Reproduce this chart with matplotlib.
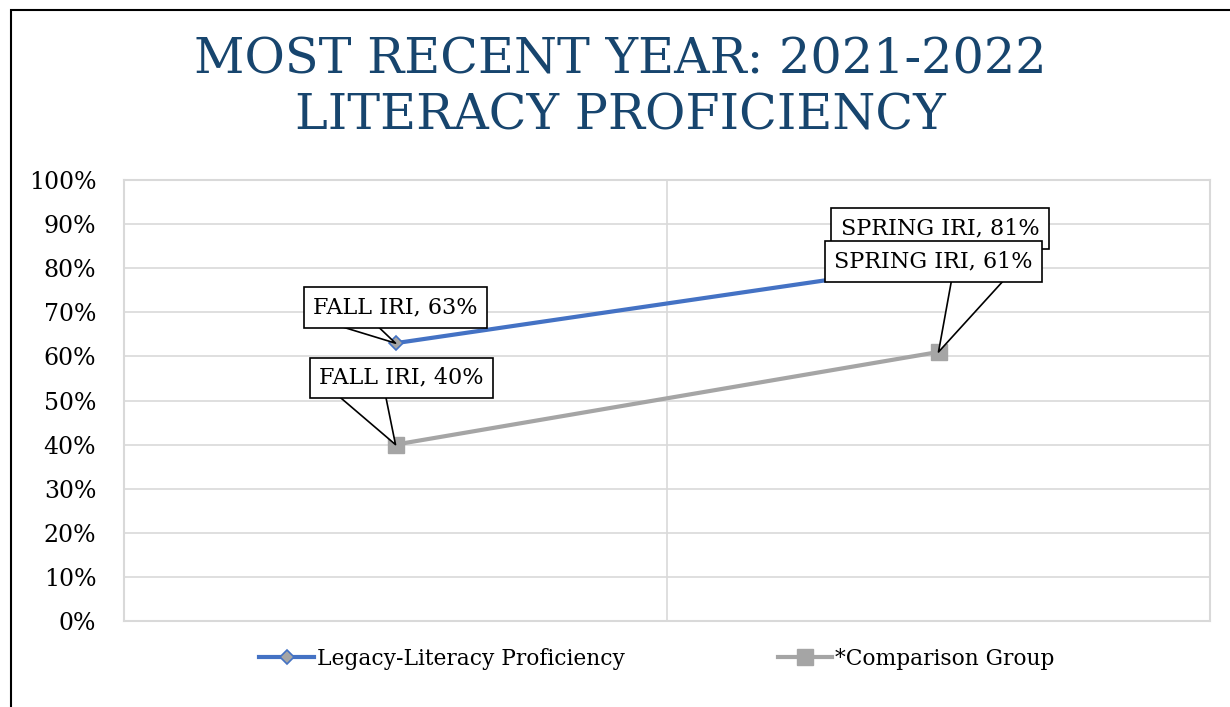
import matplotlib
matplotlib.use("Agg")
from matplotlib import pyplot as plt
from matplotlib.patches import Rectangle
from matplotlib.ticker import PercentFormatter
import numpy as np

# chart data
terms = ["FALL IRI", "SPRING IRI"]
legacy = [0.63, 0.81]
comparison = [0.40, 0.61]
series_names = ["Legacy-Literacy Proficiency", "*Comparison Group"]
title_lines = ["MOST RECENT YEAR: 2021-2022", "LITERACY PROFICIENCY"]
y_ticks = np.arange(0, 1.01, 0.1)

BLUE = "#4472C4"
GRAY = "#A5A5A5"
TITLE_COLOR = "#17456E"
GRID = "#D9D9D9"
FONT = "DejaVu Serif"

plt.rcParams["font.family"] = FONT

fig = plt.figure(figsize=(12.3, 7.07), dpi=100)
ax = fig.add_axes([124 / 1230, 1 - 621 / 707, (1210 - 124) / 1230, (621 - 180) / 707])

x = np.arange(len(terms))
ax.plot(x, legacy, color=BLUE, lw=3, marker="D", ms=7.5, mfc=GRAY, mec=BLUE,
        mew=1.2, label=series_names[0], zorder=3)
ax.plot(x, comparison, color=GRAY, lw=3, marker="s", ms=11, mfc=GRAY, mec=GRAY,
        label=series_names[1], zorder=3)

ax.set_xlim(-0.5, len(terms) - 0.5)
ax.set_ylim(0, 1)
ax.set_yticks(y_ticks)
ax.yaxis.set_major_formatter(PercentFormatter(1.0, decimals=0))
ax.set_xticks(x[:-1] + 0.5)
ax.set_xticklabels([])
ax.tick_params(axis="both", length=0)
ax.tick_params(axis="y", labelsize=17, pad=20)
ax.grid(True, color=GRID, lw=1.2)
ax.set_axisbelow(True)
for s in ax.spines.values():
    s.set_color(GRID)
    s.set_linewidth(1.5)


def callout(xi, yi, text, dx, dy, rel=None, width=None):
    arrow = None
    if rel is not None:
        arrow = dict(arrowstyle="wedge,tail_width=%s" % width, fc="white",
                     ec="black", lw=1.2, relpos=rel, patchA=None,
                     shrinkA=0, shrinkB=0)
    ax.annotate(
        text, xy=(xi, yi), xytext=(dx, dy), textcoords="offset points",
        ha="center", va="center", fontsize=16, zorder=5,
        bbox=dict(boxstyle="square,pad=0.42", fc="white", ec="black", lw=1.2),
        arrowprops=arrow,
    )


def label(name, v):
    return "%s, %d%%" % (name, round(v * 100))


# data labels
callout(x[0], legacy[0], label(terms[0], legacy[0]), 0, 25.6, (0.13, 0.5), 1.5)
callout(x[0], comparison[0], label(terms[0], comparison[0]), 4.3, 48, (0.225, 0.5), 2.4)
callout(x[1], legacy[1], label(terms[1], legacy[1]), 1, 25.6)
callout(x[1], comparison[1], label(terms[1], comparison[1]), -3.6, 65, (0.75, 0.5), 2.6)

leg = fig.legend(loc="center", bbox_to_anchor=(657 / 1230, 1 - 659 / 707), ncol=2,
                 frameon=False, fontsize=15.7, handlelength=2.5, handletextpad=0.15,
                 columnspacing=7.0)

fig.text(620 / 1230, 1 - 73 / 707, title_lines[0], ha="center", va="baseline",
         fontsize=35.5, color=TITLE_COLOR)
fig.text(620 / 1230, 1 - 130 / 707, title_lines[1], ha="center", va="baseline",
         fontsize=35.5, color=TITLE_COLOR)

# chart border
fig.add_artist(Rectangle((11 / 1230, -0.5), 2, 0.5 + 1 - 10 / 707,
                         transform=fig.transFigure, fill=False, ec="black", lw=1.5))

fig.savefig("out.png", dpi=100, facecolor="white")
